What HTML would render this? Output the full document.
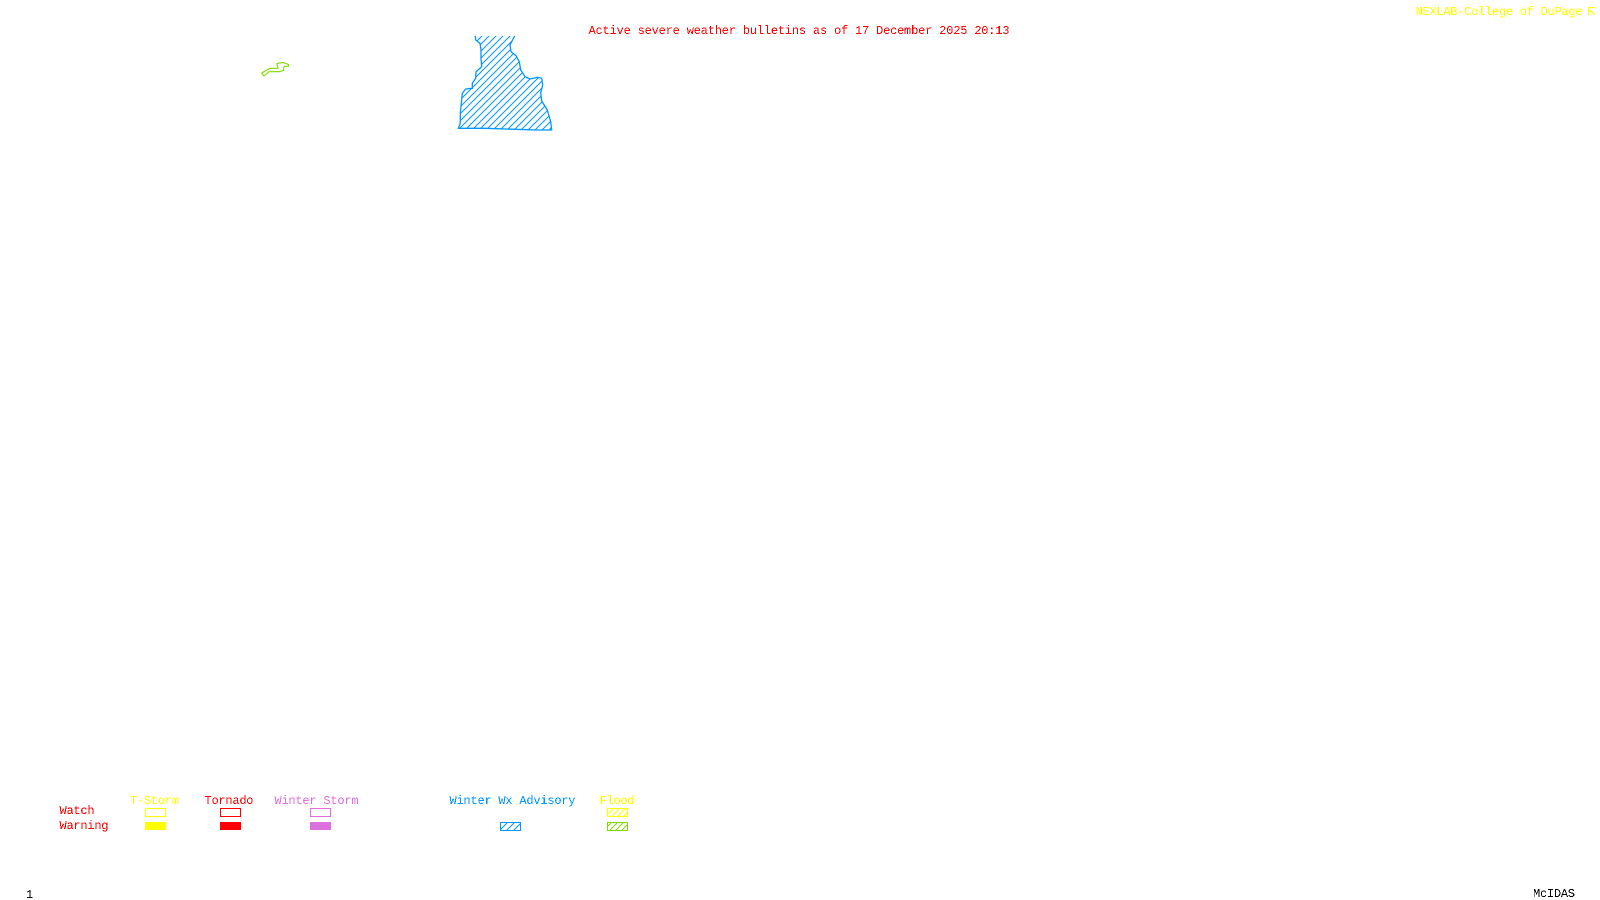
<!DOCTYPE html>
<html>
<head>
<meta charset="utf-8">
<style>
html,body{margin:0;padding:0;background:#fff;width:1600px;height:900px;overflow:hidden}
svg{display:block}
text{font-family:"Liberation Mono",monospace;font-size:12px;white-space:pre}
</style>
</head>
<body>
<svg width="1600" height="900" viewBox="0 0 1600 900" xmlns="http://www.w3.org/2000/svg">
<defs>
<pattern id="hb" patternUnits="userSpaceOnUse" width="7" height="7"><path d="M-1 8L8 -1M-1 1L1 -1M6 8L8 6" stroke="#0096ff" stroke-width="1" fill="none"/></pattern>
<pattern id="hy" patternUnits="userSpaceOnUse" width="6" height="6"><path d="M-1 7L7 -1M-1 1L1 -1M5 7L7 5" stroke="#ffff00" stroke-width="1" fill="none"/></pattern>
<pattern id="hg" patternUnits="userSpaceOnUse" width="6" height="6"><path d="M-1 7L7 -1M-1 1L1 -1M5 7L7 5" stroke="#7fdc00" stroke-width="1" fill="none"/></pattern>
<filter id="px" x="0" y="0" width="100%" height="100%" color-interpolation-filters="sRGB"><feComponentTransfer><feFuncA type="discrete" tableValues="0 0 1 1"/></feComponentTransfer></filter>
</defs>

<rect width="1600" height="900" fill="#fff"/>

<g filter="url(#px)">
<text x="1415.5" y="15" fill="#ffff00" textLength="167" lengthAdjust="spacing">NEXLAB-College of DuPage</text>
<text x="588.5" y="34" fill="#ff0000" textLength="421" lengthAdjust="spacing">Active severe weather bulletins as of 17 December 2025 20:13</text>
<text x="130" y="804" fill="#ffff00" textLength="49" lengthAdjust="spacing">T-Storm</text>
<text x="204.5" y="804" fill="#ff0000" textLength="49" lengthAdjust="spacing">Tornado</text>
<text x="274.5" y="804" fill="#e070e0" textLength="84" lengthAdjust="spacing">Winter Storm</text>
<text x="449.5" y="804" fill="#0096ff" textLength="126" lengthAdjust="spacing">Winter Wx Advisory</text>
<text x="599.5" y="804" fill="#ffff00" textLength="35" lengthAdjust="spacing">Flood</text>
<text x="59.5" y="814" fill="#ff0000" textLength="35" lengthAdjust="spacing">Watch</text>
<text x="59.5" y="829" fill="#ff0000" textLength="49" lengthAdjust="spacing">Warning</text>
<text x="26" y="898" fill="#000">1</text>
<text x="1533" y="897" fill="#000" textLength="42" lengthAdjust="spacing">McIDAS</text>
</g>

<path d="M1588.5 7.5H1595M1588.5 7.5V15M1588.5 11H1592M1591 11L1595 15" stroke="#ffff00" stroke-width="1.2" fill="none"/>

<polygon points="475.3,36 475.7,40 480,43.3 481,50 481,58.3 481.7,66.7 476,71.7 475.7,78.3 472.3,83.3 472.3,88.3 465.7,89 462.3,93.3 461.3,103.3 460.3,113.3 460.3,123.3 458.3,128.3 485,128.3 536.7,130 551.7,130 550.7,121.7 547.3,110 541.7,101 540.7,93 542.7,85 541.7,78.3 537.3,77.3 530,79 525,76.7 520.7,70 519.3,61.7 516,55.7 511,51.7 510,45 514.7,36" fill="url(#hb)"/>
<polyline points="475.3,36 475.7,40 480,43.3 481,50 481,58.3 481.7,66.7 476,71.7 475.7,78.3 472.3,83.3 472.3,88.3 465.7,89 462.3,93.3 461.3,103.3 460.3,113.3 460.3,123.3 458.3,128.3 485,128.3 536.7,130 551.7,130 550.7,121.7 547.3,110 541.7,101 540.7,93 542.7,85 541.7,78.3 537.3,77.3 530,79 525,76.7 520.7,70 519.3,61.7 516,55.7 511,51.7 510,45 514.7,36" fill="none" stroke="#0096ff" stroke-width="1.3" stroke-linejoin="round"/>

<polygon points="261.7,73 266,70.5 270,68.3 278,68.3 277.5,66 277,63.5 283,62.5 288.5,64.5 288.5,66.3 284,66.3 283.5,70.5 279,71.7 269,71.7 264,76" fill="none" stroke="#7fdc00" stroke-width="1.1"/>

<rect x="145.5" y="808.5" width="20" height="8" fill="none" stroke="#ffff00"/>
<rect x="145" y="822" width="21" height="8" fill="#ffff00"/>
<rect x="220.5" y="808.5" width="20" height="8" fill="none" stroke="#ff0000"/>
<rect x="220" y="822" width="21" height="8" fill="#ff0000"/>
<rect x="310.5" y="808.5" width="20" height="8" fill="none" stroke="#e070e0"/>
<rect x="310" y="822" width="21" height="8" fill="#dc70dc"/>
<rect x="500.5" y="822.5" width="20" height="8" fill="url(#hb)" stroke="#0096ff"/>
<rect x="607.5" y="808.5" width="20" height="8" fill="url(#hy)" stroke="#ffff00"/>
<rect x="607.5" y="822.5" width="20" height="8" fill="url(#hg)" stroke="#7fdc00"/>
</svg>
</body>
</html>
